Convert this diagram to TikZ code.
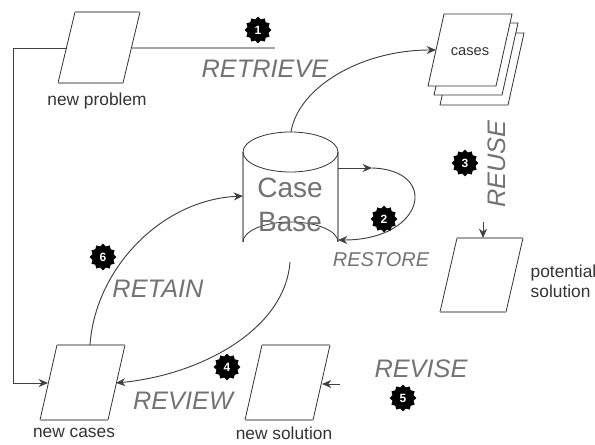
\documentclass[tikz,border=0pt]{standalone}
\usepackage{fontspec}
\setmainfont{Liberation Sans}
\usetikzlibrary{shapes.geometric,arrows.meta}
\begin{document}
\begin{tikzpicture}[x=0.75pt,y=-0.75pt,
  edge/.style={line width=0.6pt, draw=black!80},
  rim/.style={line width=1.8pt, draw=black!35},
  conn/.style={line width=0.7pt, draw=black!75},
  tip/.style={-{Stealth[length=7pt,width=6pt]}},
  big/.style={font=\fontsize{19}{22}\selectfont\itshape, text=black!55},
  lbl/.style={font=\fontsize{13}{15}\selectfont, text=black!80},
  badge/.style={star, star points=12, star point ratio=1.22, fill=black, minimum size=20pt, inner sep=0pt, text=white, font=\fontsize{9}{9}\selectfont\bfseries}]
\useasboundingbox (0,0) rectangle (595,445);
\fill[white] (0,0) rectangle (595,445);

% ---------- new problem ----------
\draw[edge] (75,12) -- (58,83) (140,12) -- (123,83);
\draw[rim] (75,12) -- (140,12) (58,83) -- (123,83);
\coordinate (npL) at (66.5,48);
\coordinate (npR) at (131.5,48);
\node[lbl] (nplabel) at (97,101) {new problem};

% ---------- cases stack ----------
\foreach \dx/\dy in {12/19,6/9,0/0}{
  \filldraw[edge, fill=white] (444+\dx,14+\dy) -- (512+\dx,14+\dy) -- (496+\dx,86+\dy) -- (428+\dx,86+\dy) -- cycle;
}
\coordinate (casesL) at (436,50);
\node[font=\fontsize{11}{12}\selectfont, text=black!80] (caseslabel) at (470,52) {cases};

% ---------- potential solution ----------
\draw[edge] (457,238) -- (440,312) (523,238) -- (506,312);
\draw[rim] (457,238) -- (523,238) (440,312) -- (506,312);
\coordinate (psT) at (483,238);
\coordinate (psIn) at (483,222);
\node[lbl, align=left, anchor=west] (pslabel) at (526,281) {potential\\solution};

% ---------- new solution ----------
\draw[edge] (262,345) -- (245,420) (330,345) -- (313,420);
\draw[rim] (262,345) -- (330,345) (245,420) -- (313,420);
\coordinate (nsR) at (322,384);
\coordinate (nsIn) at (340,384);
\node[lbl] (nslabel) at (284,433) {new solution};

% ---------- new cases ----------
\draw[edge] (57,345) -- (40,420) (125,345) -- (108,420);
\draw[rim] (57,345) -- (125,345) (40,420) -- (108,420);
\coordinate (ncL) at (48,383);
\coordinate (ncR) at (116,383);
\coordinate (ncT) at (90,345);
\node[lbl] (nclabel) at (74,433) {new cases};

% ---------- case base cylinder ----------
\fill[white] (243,152) -- (243,242) arc[start angle=180,end angle=360,x radius=47.5,y radius=20] -- (338,152) arc[start angle=0,end angle=180,x radius=47.5,y radius=20];
\draw[line width=1.6pt, black!40] (243,152) -- (243,242);
\draw[line width=1.6pt, black!40] (338,152) -- (338,242);
\draw[edge] (290.5,152) ellipse[x radius=47.5,y radius=20];
\draw[edge] (243,242) arc[start angle=180,end angle=360,x radius=47.5,y radius=20];
\node[font=\fontsize{21}{25}\selectfont, text=black!55, align=center] (cb) at (290,205) {Case\\Base};
\coordinate (cbTop) at (291,132);
\coordinate (cbBot) at (290,262);
\coordinate (cbL) at (243,196);
\coordinate (cbR1) at (338,168);
\coordinate (cbR2) at (338,240);
\coordinate (loopA) at (372,168);

% ---------- connectors ----------
\draw[rim] (npR) -- (275,48);
\draw[conn, tip] (npL) -- (13,48) -- (13,383) -- (ncL);
\draw[conn, tip] (cbTop) .. controls (298,88) and (360,50) .. (casesL);
\draw[conn, tip] (cbR1) -- (loopA);
\draw[conn, tip] (loopA) .. controls (440,170) and (425,240) .. (cbR2);
\draw[conn, tip] (ncT) .. controls (95,270) and (160,200) .. (cbL);
\draw[conn, tip] (cbBot) .. controls (285,330) and (200,375) .. (ncR);
\draw[conn, tip] (psIn) -- (psT);
\draw[conn, tip] (nsIn) -- (nsR);

% ---------- labels ----------
\node[big] (retrieve) at (265,69) {RETRIEVE};
\node[big, rotate=90] (reuse) at (497,164) {REUSE};
\node[big, font=\fontsize{15}{18}\selectfont\itshape] (restore) at (381,260) {RESTORE};
\node[big] (retain) at (158,289) {RETAIN};
\node[big] (review) at (183,401) {REVIEW};
\node[big] (revise) at (421,369) {REVISE};

% ---------- badges ----------
\node[badge] (b1) at (258,30) {1};
\node[badge] (b2) at (384,219) {2};
\node[badge] (b3) at (465,163) {3};
\node[badge] (b4) at (227,367) {4};
\node[badge] (b5) at (403,398) {5};
\node[badge] (b6) at (103,257) {6};
\end{tikzpicture}
\end{document}
